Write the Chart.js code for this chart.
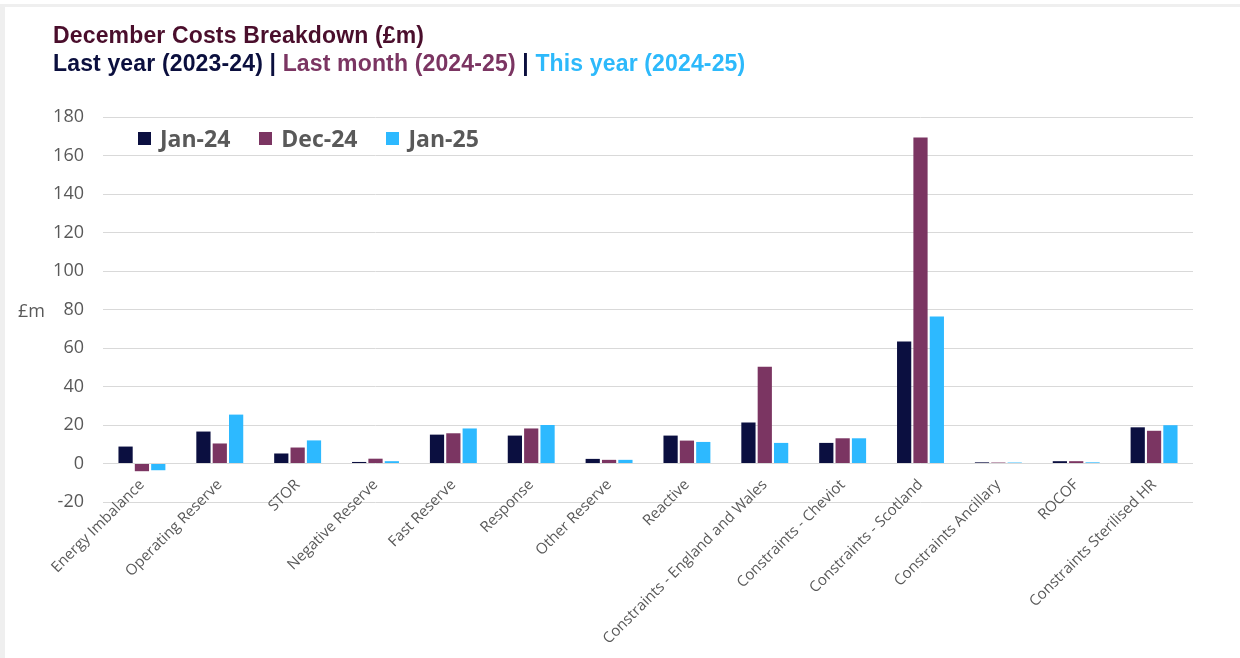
<!DOCTYPE html>
<html>
<head>
<meta charset="utf-8">
<script src="https://cdn.jsdelivr.net/npm/chart.js@4.4.1/dist/chart.umd.min.js"></script>
<style>
  html, body { margin: 0; padding: 0; background: #fff; }
  body { width: 1240px; height: 658px; position: relative; overflow: hidden; }
  .topstrip { position: absolute; left: 0; top: 4px; width: 1240px; height: 3px; background: #efefef; }
  .leftstrip { position: absolute; left: 0; top: 4px; width: 5px; height: 654px; background: #efefef; }
  .wrap { position: absolute; left: 0; top: 0; width: 1240px; height: 658px; }
  .title { position: absolute; left: 53px; top: 21px; font-family: "Liberation Sans", Arial, sans-serif; font-weight: bold; font-size: 23px; line-height: 28px; letter-spacing: 0.15px; }
  .t1 { color: #4a0e2c; }
  .navy { color: #0b0f3e; }
  .maroon { color: #7b3562; }
  .blue { color: #2db9fb; }
  .ylab { position: absolute; left: 18px; top: 298px; font-family: "Open Sans", sans-serif; font-size: 18px; color: #595959; }
  .legend { position: absolute; left: 138px; top: 122px; font-family: "Open Sans", sans-serif; font-weight: bold; font-size: 23px; color: #595959; display: flex; }
  .legend span.item { display: flex; align-items: center; margin-right: 29px; }
  .legend span.box { width: 13px; height: 13px; display: inline-block; margin-right: 9px; }
</style>
</head>
<body>
<div class="topstrip"></div>
<div class="leftstrip"></div>
<div class="wrap"><canvas id="myChart" width="1240" height="658"></canvas></div>
<div class="title">
  <div class="t1">December Costs Breakdown (£m)</div>
  <div><span class="navy">Last year (2023-24) |</span> <span class="maroon">Last month (2024-25)</span> <span class="navy">|</span> <span class="blue">This year (2024-25)</span></div>
</div>
<div class="ylab">£m</div>
<div class="legend" id="legend"></div>
<script>
const categories = [
  'Energy Imbalance', 'Operating Reserve', 'STOR', 'Negative Reserve', 'Fast Reserve',
  'Response', 'Other Reserve', 'Reactive', 'Constraints - England and Wales',
  'Constraints - Cheviot', 'Constraints - Scotland', 'Constraints Ancillary', 'ROCOF',
  'Constraints Sterilised HR'
];
const seriesNames = ['Jan-24', 'Dec-24', 'Jan-25'];
const seriesColors = ['#0b0f40', '#7b3562', '#2db9ff'];

const jan24 = [8.8, 16.6, 5.2, 0.8, 15.0, 14.5, 2.4, 14.5, 21.3, 10.7, 63.4, 0.6, 1.2, 18.8];
const dec24 = [-4.0, 10.4, 8.3, 2.5, 15.7, 18.2, 1.9, 11.9, 50.3, 13.1, 169.4, 0.5, 1.2, 17.0];
const jan25 = [-3.5, 25.4, 12.0, 1.2, 18.2, 20.0, 1.9, 11.2, 10.7, 13.1, 76.4, 0.5, 0.6, 19.9];

const yTicks = [-20, 0, 20, 40, 60, 80, 100, 120, 140, 160, 180];

const values = [jan24, dec24, jan25];
const datasets = seriesNames.map(function(name, i) {
  return {
    label: name,
    data: values[i],
    backgroundColor: seriesColors[i],
    borderWidth: 0,
    categoryPercentage: 0.63,
    barPercentage: 0.87
  };
});

// html legend
var lg = document.getElementById('legend');
seriesNames.forEach(function(name, i) {
  var it = document.createElement('span');
  it.className = 'item';
  it.innerHTML = '<span class="box" style="background:' + seriesColors[i] + '"></span>' + name;
  lg.appendChild(it);
});

// category labels sit just under the zero line, like excel does
const liftLabels = {
  id: 'liftLabels',
  afterLayout: function(chart) {
    chart.scales.x.top -= 36;
  }
};

const config = {
  type: 'bar',
  data: { labels: categories, datasets: datasets },
  plugins: [liftLabels],
  options: {
    responsive: false,
    animation: false,
    layout: { padding: { left: 0, right: 47, top: 117, bottom: 0 } },
    plugins: {
      legend: { display: false },
      tooltip: { enabled: false }
    },
    scales: {
      x: {
        grid: { display: false },
        border: { display: false },
        ticks: {
          minRotation: 45,
          maxRotation: 45,
          autoSkip: false,
          padding: 2,
          color: '#595959',
          font: { family: 'Open Sans', size: 15 }
        },
        afterFit: function(scale) { scale.height = 156; }
      },
      y: {
        min: -20,
        max: 180,
        afterBuildTicks: function(scale) {
          scale.ticks = yTicks.map(function(v) { return { value: v }; });
        },
        grid: { color: '#d9d9d9', lineWidth: 1, drawTicks: false },
        border: { display: false },
        ticks: {
          padding: 19,
          color: '#595959',
          font: { family: 'Open Sans', size: 18 }
        },
        afterFit: function(scale) { scale.width = 103; }
      }
    }
  }
};

const myChart = new Chart(document.getElementById('myChart').getContext('2d'), config);
</script>
</body>
</html>
